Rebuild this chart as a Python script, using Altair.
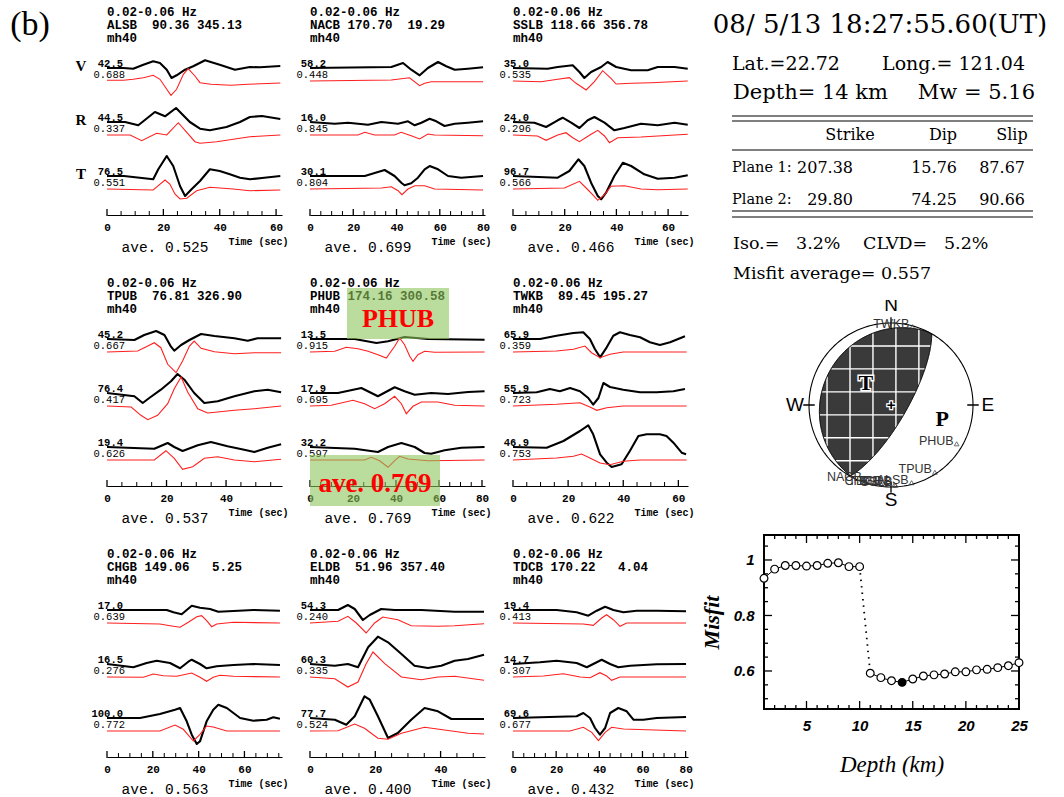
import math
import numpy as np
import pandas as pd
import altair as alt

# ======================= DATA =======================
STATIONS = ["ALSB", "NACB", "SSLB", "TPUB", "PHUB", "TWKB", "CHGB", "ELDB", "TDCB"]
DIST = [90.36, 170.70, 118.66, 76.81, 174.16, 89.45, 149.06, 51.96, 170.22]
AZIM = [345.13, 19.29, 356.78, 326.90, 300.58, 195.27, 5.25, 357.40, 4.04]
FILTER_BAND = "0.02-0.06 Hz"
MODEL = "mh40"
COMPS = ["V", "R", "T"]
AMP = [["42.5", "44.5", "76.5"], ["58.2", "16.0", "30.1"], ["35.0", "24.0", "96.7"],
       ["45.2", "76.4", "19.4"], ["13.5", "17.9", "32.2"], ["65.9", "55.9", "46.9"],
       ["17.0", "16.5", "100.0"], ["54.3", "60.3", "77.7"], ["19.4", "14.7", "69.6"]]
VR = [["0.688", "0.337", "0.551"], ["0.448", "0.845", "0.804"], ["0.535", "0.296", "0.566"],
      ["0.667", "0.417", "0.626"], ["0.915", "0.695", "0.597"], ["0.359", "0.723", "0.753"],
      ["0.639", "0.276", "0.772"], ["0.240", "0.335", "0.524"], ["0.413", "0.307", "0.677"]]
AVE = ["0.525", "0.699", "0.466", "0.537", "0.769", "0.622", "0.563", "0.400", "0.432"]
TMAX = [62.1, 80.9, 67.7, 58.8, 81.4, 63.5, 76.4, 53.6, 81.1]
TIME_LABELS = [[0, 20, 40, 60], [0, 20, 40, 60, 80], [0, 20, 40, 60], [0, 20, 40],
               [0, 20, 40, 60, 80], [0, 20, 40, 60], [0, 20, 40, 60], [0, 20, 40],
               [0, 20, 40, 60, 80]]
HIGHLIGHT = "PHUB"

# waveforms: (time s, deflection) ; OBS = black data, SYN = red synthetic
ALSB_V_OBS = [(0,0),(5.8,0),(9.3,-0.7),(12.9,3.3),(16.4,6.7),(18.8,5),(21.2,-1.7),(22.9,-10),(24.7,-7.3),(27.7,-1.7),(30.6,1.7),(34.8,7.7),(40,3.3),(45.4,-1.7),(50.7,1),(54.3,0.7),(61.5,2)]
ALSB_V_SYN = [(0,0.7),(5.8,0.7),(9.3,1.7),(12.9,3.3),(16.4,5.7),(18.8,1.7),(21.2,-8.3),(22.7,-14.3),(24.7,-8.3),(27.1,6.7),(28.8,12.3),(31.2,5),(33,-1.7),(36.9,-3.3),(44,-4.3),(50,-3.3),(61.5,-2)]
ALSB_R_OBS = [(0,0),(6.4,0),(11.1,-3.3),(17,10),(20.6,5.7),(24.5,14),(29.4,0),(33,-6.7),(36.5,-8.3),(42.4,-5),(47.2,0),(50.7,5),(55,6),(61.5,3)]
ALSB_R_SYN = [(0,0),(8.2,0),(12.3,-5.7),(17.6,1.7),(21.2,0),(25.3,12.3),(31.2,-6.7),(33,-8.3),(38.9,-6.7),(50.7,-1.7),(61.5,0)]
ALSB_T_OBS = [(0,0),(6,0),(16.4,-3.3),(18.2,6.7),(21.2,20),(23.5,10),(25.9,-10),(27.7,-20),(30,-13.3),(33,-5),(36.5,6.7),(40,5),(43.6,1.7),(47.2,-1.7),(50.7,-3.3),(55,-2),(61.5,0)]
ALSB_T_SYN = [(0,0),(16.4,-1),(18.2,3.3),(20.6,9),(22.3,5),(24.1,-5),(25.9,-10),(28.3,-9.3),(31.8,-1.7),(36.5,1.7),(44.8,0),(50.7,-1.7),(61.5,-1)]

NACB_V_OBS = [(0,0),(37.6,1),(43,5),(46.8,-1.7),(50.7,-7.3),(54.5,0),(59.2,6),(63,1.7),(66.9,-1.7),(73,-0.7),(80,0.7)]
NACB_V_SYN = [(0,0),(37.6,1),(46,3.3),(50.7,-4.7),(53,-2.3),(56.1,-0.7),(80,-0.7)]
NACB_R_OBS = [(0,0),(11.4,-1.7),(17.6,-0.7),(26.8,-2.7),(33,0),(40.7,-1.7),(45.3,0.7),(48.4,-3.3),(51.5,-0.7),(55.3,3.3),(58.4,0.7),(62.2,-4),(66.9,-1.7),(73,-0.7),(80,0.7)]
NACB_R_SYN = [(0,0),(22.2,0),(25.3,2.7),(29.9,0),(39.1,0),(42.1,2.7),(46.8,-0.7),(50.7,-4),(54.5,1),(57.6,0),(80,-0.7)]
NACB_T_OBS = [(0,0),(25.3,0),(34.5,6),(39.1,0),(42.2,-6.7),(43.7,-9.3),(46.8,-7.3),(49.9,-1.7),(53,6.7),(55.3,10),(59.2,6.7),(63.8,0),(69.9,-1.7),(80,0)]
NACB_T_SYN = [(0,0),(33,1),(37.6,2.3),(40.7,-1.7),(42.5,-5.7),(45.3,0),(48.4,3.3),(53,3.3),(57.6,0),(80,-1)]

SSLB_V_OBS = [(0,0),(13.4,-0.7),(17.3,1),(23.1,2.7),(25.7,-4),(27.6,-10),(30.2,-4),(34.1,1),(36.6,6),(39.9,1),(45.7,-2.3),(52.1,-2.3),(56,1),(62.5,1),(67.6,-0.7)]
SSLB_V_SYN = [(0,0),(10.8,-0.7),(17.3,1.7),(21.8,3.3),(24.4,-2.3),(28.3,-9),(31.5,-0.7),(34.7,10.3),(37.9,2.7),(39.9,-3),(45.7,-2.3),(53.4,-1.7),(67.6,0)]
SSLB_R_OBS = [(0,0),(8.3,-0.7),(12.8,-5),(17.3,1.7),(19.2,4.3),(22.5,-0.7),(25.7,-6),(28.9,1.7),(31.5,5),(35.4,-0.7),(39.2,-8.3),(43.1,-6),(49.5,-1.7),(56,-3.3),(62.5,-0.7),(67.6,-2.7)]
SSLB_R_SYN = [(0,0),(9.5,-1),(12.8,-5.3),(17.3,0),(20.5,2.3),(23.1,-2.7),(25.7,-6.7),(30.2,0.7),(32.8,4.7),(35.4,-1),(37.3,-7.7),(40.5,-2.7),(49.5,-2),(67.6,0.7)]
SSLB_T_OBS = [(0,0),(17.3,-1.7),(21.8,5),(25.3,16.7),(27.6,10),(30.2,-6.7),(32.8,-20),(34.1,-23.3),(36,-16.7),(39.2,0),(42.5,13.3),(45.7,10),(50.8,1.7),(56,-2.7),(62.5,-1.7),(67.6,0.7)]
SSLB_T_SYN = [(0,0),(19.9,1),(25.7,7.7),(28.3,1),(30.8,-5.7),(32.8,-11.3),(35.4,-5.7),(37.9,2.7),(43.1,3.3),(49.5,0),(56,-0.7),(67.6,0)]

TPUB_V_OBS = [(0,0),(9.2,-1),(12.5,4),(16.5,8),(19.3,4),(21.5,-7.7),(22.6,-11.7),(24.9,-6),(27.7,-1),(31.6,5),(36.1,3),(42.8,0.7),(47.3,-1.7),(50.6,0.7),(58.5,0.7)]
TPUB_V_SYN = [(0,0),(10.3,1),(13.7,6),(15.9,9.3),(18.1,4.3),(20.4,-12.3),(23.2,-20.7),(25.4,-9),(27.7,6),(29.3,11),(31.6,3.7),(36.1,0.3),(42.8,-1.7),(49.5,-0.7),(58.5,-0.7)]
TPUB_R_OBS = [(0,0),(9.2,-3.3),(12,-10),(14.2,-5),(18.1,3.3),(21.5,11.7),(23.7,19),(26,13.3),(29.3,0),(32.7,-10),(37.2,-8.3),(42.8,-3.3),(49.5,1.7),(54,3.3),(58.5,0.7)]
TPUB_R_SYN = [(0,0),(8.1,-1),(11.4,-9.3),(13.7,-13.7),(17,-9.3),(20.4,2.3),(22.6,17.3),(24.9,29),(27.1,14),(30.5,-2.7),(33.8,-7),(37.2,-6),(42.8,-4.3),(49.5,-2.7),(58.5,0)]
TPUB_T_OBS = [(0,0),(15.9,-1.7),(20.4,4),(22.6,0),(25.4,-4),(30.5,1.7),(34.9,5),(40.5,0.7),(46.1,-2.7),(49.5,-5),(54,-0.7),(58.5,2.7)]
TPUB_T_SYN = [(0,0),(15.9,0),(19.8,9.3),(22.6,1.7),(25.4,-9.3),(28.8,-6.7),(32.7,1.7),(37.2,3.3),(42.8,0),(49.5,-1.7),(58.5,0.7)]

PHUB_V_OBS = [(0,0),(20.8,0),(30.9,-4),(36.3,-2.3),(44,2),(54.9,0),(81.2,-0.7)]
PHUB_V_SYN = [(0,0),(11.5,0.7),(16.9,4.7),(22.3,3.3),(27,0.7),(31.6,-2.7),(35.5,-6),(39.4,5.7),(41.7,14),(44,7.3),(46.4,-4.3),(47.9,-9.3),(50.2,-2.7),(53.3,0.7),(58,-0.3),(81.2,0)]
PHUB_R_OBS = [(0,0),(13,0),(23.9,5),(31.6,-3.3),(39.4,5.7),(44,1.7),(48.7,-1.7),(56.4,0),(64.2,-1),(73.5,1),(81.2,1.7)]
PHUB_R_SYN = [(0,0),(9.9,0.7),(20,5.7),(25.4,2.3),(30.1,-2.7),(34.7,2.3),(39.4,9.7),(42.5,2.3),(44.8,-7.7),(47.9,-0.3),(51.8,4),(59.5,4),(67.3,0.7),(81.2,0)]
PHUB_T_OBS = [(0,0),(20.8,-1.7),(31.6,-5),(36.3,0),(42.5,4),(48.7,0),(53.3,-6),(56.4,-6.7),(62.6,-3.3),(70.4,-0.7),(81.2,0)]
PHUB_T_SYN = [(0,0),(25.4,0),(28.5,2.7),(32.4,-0.7),(36.3,-7.3),(39.4,-0.7),(41.7,3.7),(45.6,1),(54.9,-0.7),(81.2,0)]

TWKB_V_OBS = [(0,0),(9.8,0),(15.8,3.3),(21.9,6),(25.5,6.7),(27.9,0),(29.7,-10),(31.6,-18.3),(34,-8.3),(36.4,3.3),(38.8,6.7),(42.4,4),(46.1,1.7),(49.7,-3.3),(53.3,-6),(57,-3.3),(62.4,2.7)]
TWKB_V_SYN = [(0,0),(15.8,1),(21.9,2.7),(26.1,6),(28.5,-0.7),(31.6,-5.7),(35.2,-2.3),(40,0),(63,0)]
TWKB_R_OBS = [(0,0),(8.6,0.7),(13.4,4),(17,1.7),(20.7,5),(24.3,1.7),(27.3,-5),(29.1,-11.7),(31,-5),(32.8,10),(35.2,6),(40,3.3),(46.1,0.7),(52.1,0.7),(58.2,1.7),(62.4,4)]
TWKB_R_SYN = [(0,0),(15.8,1.7),(24.3,3.3),(27.9,-1),(30.4,-4.3),(34,-1.7),(40,0),(63,0)]
TWKB_T_OBS = [(0,0),(12.2,-0.7),(18.3,6),(24.3,16),(27.3,21.7),(29.1,12.7),(31.6,-7.3),(34,-15.7),(35.8,-20),(39.4,-17.3),(42.4,-4),(45.5,11),(48.5,12.7),(53.3,12.7),(55.7,11),(58.2,4.3),(61.2,-5.7),(62.8,-7.3)]
TWKB_T_SYN = [(0,0),(15.8,2),(21.9,3.7),(24.9,6),(27.9,2),(31.6,-3),(35.2,-4.7),(40,-1.3),(46.1,0),(63,0)]

CHGB_V_OBS = [(0,0),(26.1,0),(29,-2.3),(32.6,-4.3),(34.8,0),(37,4.3),(40.6,2.3),(45,1),(48.6,-1.7),(55.2,-1),(63.9,0),(75.5,-0.7)]
CHGB_V_SYN = [(0,0),(23.1,-1),(27.5,-2.7),(31.9,-4.3),(35.5,0.7),(39.2,6.3),(41.3,7.3),(43.5,2.3),(45.7,-3.7),(47.9,-1),(55.2,0.7),(75.5,0)]
CHGB_R_OBS = [(0,0),(11.5,-3.3),(17.3,1),(21.7,3.3),(27.5,1),(31.9,-4.3),(35.5,2.3),(37,4.3),(40.6,0),(43.5,-4.3),(47.9,-2.3),(55.2,-1),(63.9,0),(75.5,-1)]
CHGB_R_SYN = [(0,0),(15.9,-0.3),(20.2,3),(24.6,1.3),(30.4,0.7),(37,4),(40.6,-0.3),(43.5,-4.3),(46.4,-0.3),(49.3,1.7),(55.2,0.7),(75.5,0)]
CHGB_T_OBS = [(0,0),(14.4,0),(23.1,4),(29.7,8.3),(31.9,10),(34.8,-3.3),(37,-16.7),(39.2,-26),(40.6,-23.3),(43.5,-3.3),(46.4,8.3),(48.6,13.3),(52.3,10),(58.1,0),(63.9,-2.7),(69.7,-1.7),(72.6,0.7),(75.5,-0.7)]
CHGB_T_SYN = [(0,0),(23.1,0),(29.7,6),(33.3,1.7),(37.7,-10),(40.6,-3.3),(43.5,5),(46.4,4),(52.3,0),(75.5,0)]

ELDB_V_OBS = [(0,0),(8.6,0),(11.6,5),(13.7,1),(16.2,-10),(18.3,-5),(21.8,1),(25.9,0),(34.1,0),(44.3,-1.7),(53.3,-1.7)]
ELDB_V_SYN = [(0,0),(8.6,1.7),(11.6,6.7),(14.2,0),(17.2,-10),(19.8,0),(22.3,6),(26.9,3.3),(31,-2.7),(39.2,-3.3),(44.3,-2.7),(53.3,-0.7)]
ELDB_R_OBS = [(0,0),(7.6,-1.7),(11.6,0),(14.7,-3.3),(17.8,16.7),(20.8,27.3),(23.9,21.7),(28,10),(32,-1.7),(36.1,-4),(40.2,-1.7),(44.3,3.3),(48.4,5),(53.3,9.3)]
ELDB_R_SYN = [(0,0),(7.6,-1.7),(11.6,-10),(14.7,-5),(17.2,13.3),(19.3,25),(22.9,13.3),(28,0),(34.1,-2.7),(39.2,0),(44.3,0.7),(53.3,-3.3)]
ELDB_T_OBS = [(0,0),(7.6,-1.7),(11.1,-6.7),(13.7,1.7),(16.7,21.7),(18.3,18.3),(20.8,1.7),(23.9,-20),(26.9,-15),(31,-1.7),(35.1,10),(39.2,6.7),(43.3,-1),(53.3,-1)]
ELDB_T_SYN = [(0,0),(8.6,0.3),(13.7,7),(16.7,2.7),(20.8,-7.3),(23.9,-8.3),(28,-2.3),(35.1,3.7),(41.2,1),(48.4,-2.3),(53.3,-3)]

TDCB_V_OBS = [(0,0),(20.2,0),(29.5,-2.3),(34.9,-5.7),(38.8,-0.7),(42.7,3.3),(46.5,0),(51.2,-2.3),(57.3,-0.7),(66.6,-0.7),(80.2,-1.3)]
TDCB_V_SYN = [(0,0),(32.6,-1),(37.2,-2.3),(41.1,5),(43.4,8.3),(46.5,3.3),(49.6,-3.3),(52.7,0),(80.2,0)]
TDCB_R_OBS = [(0,0),(12.5,1.7),(20.2,3.3),(29.5,1),(34.2,-3.3),(38.8,1.7),(41.1,4.3),(45,0),(48.8,-3.3),(54.3,-1.7),(66.6,-0.3),(80.2,0)]
TDCB_R_SYN = [(0,0),(14.1,1),(23.3,3.3),(31.1,0),(35.7,-0.7),(40.3,4.3),(43.4,1),(45.7,-3.3),(49.6,0),(80.2,0)]
TDCB_T_OBS = [(0,0),(29.5,1.7),(32.6,5),(35.7,0),(38,-10),(40.3,-16.7),(42.7,-10),(45,5),(48.8,10),(52.7,6.7),(55.8,-1.7),(60.4,-1.7),(66.6,0),(80.2,1)]
TDCB_T_SYN = [(0,0),(26.4,0),(32.6,3.7),(36.5,-1.3),(39.6,-9.7),(42.7,-1.3),(45.7,3.7),(51.2,2),(80.2,0)]

WAVES = {
    "ALSB": {"V": (ALSB_V_OBS, ALSB_V_SYN), "R": (ALSB_R_OBS, ALSB_R_SYN), "T": (ALSB_T_OBS, ALSB_T_SYN)},
    "NACB": {"V": (NACB_V_OBS, NACB_V_SYN), "R": (NACB_R_OBS, NACB_R_SYN), "T": (NACB_T_OBS, NACB_T_SYN)},
    "SSLB": {"V": (SSLB_V_OBS, SSLB_V_SYN), "R": (SSLB_R_OBS, SSLB_R_SYN), "T": (SSLB_T_OBS, SSLB_T_SYN)},
    "TPUB": {"V": (TPUB_V_OBS, TPUB_V_SYN), "R": (TPUB_R_OBS, TPUB_R_SYN), "T": (TPUB_T_OBS, TPUB_T_SYN)},
    "PHUB": {"V": (PHUB_V_OBS, PHUB_V_SYN), "R": (PHUB_R_OBS, PHUB_R_SYN), "T": (PHUB_T_OBS, PHUB_T_SYN)},
    "TWKB": {"V": (TWKB_V_OBS, TWKB_V_SYN), "R": (TWKB_R_OBS, TWKB_R_SYN), "T": (TWKB_T_OBS, TWKB_T_SYN)},
    "CHGB": {"V": (CHGB_V_OBS, CHGB_V_SYN), "R": (CHGB_R_OBS, CHGB_R_SYN), "T": (CHGB_T_OBS, CHGB_T_SYN)},
    "ELDB": {"V": (ELDB_V_OBS, ELDB_V_SYN), "R": (ELDB_R_OBS, ELDB_R_SYN), "T": (ELDB_T_OBS, ELDB_T_SYN)},
    "TDCB": {"V": (TDCB_V_OBS, TDCB_V_SYN), "R": (TDCB_R_OBS, TDCB_R_SYN), "T": (TDCB_T_OBS, TDCB_T_SYN)},
}

# solution summary
EVENT_TIME = "08/ 5/13 18:27:55.60(UT)"
LAT, LON = 22.72, 121.04
DEPTH, MW = 14, 5.16
TABLE_COLS = ["Strike", "Dip", "Slip"]
PLANE_NAMES = ["Plane 1:", "Plane 2:"]
PLANES = [[207.38, 15.76, 87.67], [29.80, 74.25, 90.66]]
ISO, CLVD = 3.2, 5.2
MISFIT_AVG = 0.557

# beach-ball station plotting radius
STA_R = [0.98, 0.97, 0.98, 0.98, 0.93, 0.99, 0.97, 0.97, 0.97]

# misfit versus depth
DEPTHS = list(range(1, 26))
MISFIT = [0.934, 0.967, 0.980, 0.980, 0.978, 0.980, 0.988, 0.990, 0.976, 0.976,
          0.592, 0.576, 0.565, 0.559, 0.571, 0.582, 0.586, 0.589, 0.597, 0.597,
          0.604, 0.606, 0.612, 0.619, 0.630]

# ======================= STYLE / LAYOUT =======================
MONO = "Liberation Mono"
SERIF = "Liberation Serif"
SERIF2 = "DejaVu Serif"
SANS = "Liberation Sans"
RED = "#ff1f1f"
GREEN = "#8cc45a"
PANEL_W, PANEL_H = 175, 165
ROW_PITCH = 271          # vertical distance between the tops of panel rows
RIGHT_X = 657            # horizontal offset of the right column from the first panel
OBS_BASE = {"V": 147, "R": 93, "T": 39}
SYN_BASE = {"V": 134, "R": 80, "T": 26}
ANCHOR = pd.DataFrame({"k": [0]})
NB = "\u00a0"


def label(text, x, y, size, font=SERIF2, weight="normal", style="normal",
          align="left", color="black", baseline="middle"):
    return alt.Chart(ANCHOR).mark_text(
        text=text, font=font, fontSize=size, fontWeight=weight, fontStyle=style,
        align=align, baseline=baseline, color=color
    ).encode(x=alt.value(x), y=alt.value(y))


def hline(x1, x2, y, w=1.2):
    return alt.Chart(ANCHOR).mark_rule(color="black", strokeWidth=w).encode(
        x=alt.value(x1), x2=alt.value(x2), y=alt.value(y))


# ----------------------- waveform panels -----------------------
def panel(i):
    name = STATIONS[i]
    rows = []
    for comp in COMPS:
        obs, syn = WAVES[name][comp]
        for kind, pts, base in (("obs", obs, OBS_BASE[comp]), ("syn", syn, SYN_BASE[comp])):
            for k, (t, a) in enumerate(pts):
                rows.append(dict(t=t, y=base + a, trace=f"{comp}-{kind}", kind=kind, k=k))
    df = pd.DataFrame(rows)
    xs = alt.Scale(domain=[0, TMAX[i]], nice=False, zero=False)
    ys = alt.Scale(domain=[0, PANEL_H], nice=False, zero=False)

    axis = alt.Axis(values=TIME_LABELS[i], ticks=False, domain=True, domainColor="black",
                    domainWidth=1.2, grid=False, labelFont=MONO, labelFontWeight="bold",
                    labelFontSize=11, labelPadding=6, labelFlush=False, labelOverlap=False,
                    labelColor="black",
                    title="Time (sec)", titleFont=MONO, titleFontSize=10, titleFontWeight="bold",
                    titleAnchor="end", titleAlign="right", titleBaseline="middle",
                    titleX=PANEL_W + 6, titleY=26, titleColor="black")

    base = alt.Chart(df)
    obs_l = base.transform_filter("datum.kind == 'obs'").mark_line(
        color="black", strokeWidth=2.1, strokeJoin="round").encode(
        x=alt.X("t:Q", scale=xs, axis=axis),
        y=alt.Y("y:Q", scale=ys, axis=None),
        detail="trace:N", order="k:Q")
    syn_l = base.transform_filter("datum.kind == 'syn'").mark_line(
        color=RED, strokeWidth=1.1).encode(
        x=alt.X("t:Q", scale=xs), y=alt.Y("y:Q", scale=ys),
        detail="trace:N", order="k:Q")

    tick_t = np.arange(0, TMAX[i] + 1e-6, 5.0)
    tdf = pd.DataFrame({"t": tick_t, "major": (tick_t % 20 == 0)})
    minor = alt.Chart(tdf).transform_filter("!datum.major").mark_rule(
        color="black", strokeWidth=1).encode(
        x=alt.X("t:Q", scale=xs), y=alt.value(PANEL_H), y2=alt.value(PANEL_H - 4))
    major = alt.Chart(tdf).transform_filter("datum.major").mark_rule(
        color="black", strokeWidth=1.3).encode(
        x=alt.X("t:Q", scale=xs), y=alt.value(PANEL_H + 1), y2=alt.value(PANEL_H - 6))

    ldf = pd.DataFrame({"comp": COMPS, "amp": AMP[i], "vr": VR[i],
                        "yb": [OBS_BASE[c] for c in COMPS]})
    amp_t = alt.Chart(ldf).mark_text(align="right", baseline="bottom", font=MONO,
                                     fontWeight="bold", fontSize=10.5, dy=1).encode(
        x=alt.value(16), y=alt.Y("yb:Q", scale=ys), text="amp:N")
    vr_t = alt.Chart(ldf).mark_text(align="right", baseline="middle", font=MONO,
                                    fontSize=10.5, dy=7).encode(
        x=alt.value(18), y=alt.Y("yb:Q", scale=ys), text="vr:N")

    header = [FILTER_BAND.replace(" ", NB),
              f"{name} {DIST[i]:6.2f} {AZIM[i]:6.2f}".replace(" ", NB),
              MODEL]
    head_t = alt.Chart(ANCHOR).mark_text(
        text=header, align="left", baseline="top", font=MONO, fontWeight="bold",
        fontSize=12.5, lineHeight=13, color="black").encode(
        x=alt.value(0), y=alt.value(-44))
    ave_t = label(f"ave.{NB}{AVE[i]}", 58, PANEL_H + 33, 14.5, font=MONO, align="center")

    layers = [obs_l, syn_l, minor, major, amp_t, vr_t, head_t, ave_t]

    if i == 0:
        layers.append(label("(b)", -77, -25, 34, font=SERIF, align="center"))
        comp_t = alt.Chart(ldf).mark_text(align="center", baseline="middle", font=SERIF,
                                          fontWeight="bold", fontSize=15, dy=-2).encode(
            x=alt.value(-26), y=alt.Y("yb:Q", scale=ys), text="comp:N")
        layers.append(comp_t)

    if name == HIGHLIGHT:
        box1 = alt.Chart(ANCHOR).mark_rect(fill=GREEN, opacity=0.6).encode(
            x=alt.value(37), x2=alt.value(139), y=alt.value(-33), y2=alt.value(18))
        box2 = alt.Chart(ANCHOR).mark_rect(fill=GREEN, opacity=0.6).encode(
            x=alt.value(0), x2=alt.value(130), y=alt.value(134), y2=alt.value(185))
        layers += [box1, box2,
                   label(name, 88, -2, 26, font=SERIF, weight="bold", color="red", align="center"),
                   label(f"ave.{NB}{AVE[i]}", 65, 163, 27, font=SERIF, weight="bold",
                         color="red", align="center")]

    return alt.layer(*layers).properties(width=PANEL_W, height=PANEL_H)


rows = [alt.hconcat(*[panel(3 * r + c) for c in range(3)], spacing=28, bounds="flush")
        for r in range(3)]
left = alt.vconcat(*rows, spacing=ROW_PITCH, bounds="flush")

# ----------------------- solution text block -----------------------
TEXT_W, TEXT_H = 255, 240
TS = 16
tl = [
    label(EVENT_TIME, 116, -25, 26, align="center"),
    label(f"Lat.={LAT:.2f}", -32, 14, 19),
    label(f"Long.={NB}{LON:.2f}", 261, 14, 19, align="right"),
    label(f"Depth={NB}{DEPTH}{NB}km", -31, 43, 21),
    label(f"Mw{NB}={NB}{MW:.2f}", 271, 43, 21, align="right"),
    hline(-32, 269, 66), hline(-32, 269, 71),
    hline(-32, 269, 100),
    hline(-32, 269, 161), hline(-32, 269, 167),
]
for c, x in zip(TABLE_COLS, [86, 179, 248]):
    tl.append(label(c, x, 85, TS, align="center"))
for j, (pn, vals) in enumerate(zip(PLANE_NAMES, PLANES)):
    yy = 118 + 32 * j
    tl.append(label(pn.replace(" ", NB), -32, yy, 14.5))
    for v, x in zip(vals, [89, 193, 261]):
        tl.append(label(f"{v:.2f}", x, yy, TS, align="right"))
tl.append(label(f"Iso.={NB}{NB}{NB}{ISO:.1f}%", -31, 194, 17.5))
tl.append(label(f"CLVD={NB}{NB}{NB}{CLVD:.1f}%", 99, 194, 17.5))
tl.append(label(f"Misfit{NB}average={NB}{MISFIT_AVG:.3f}", -31, 224, 17.5))
text_chart = alt.layer(*tl).properties(width=TEXT_W, height=TEXT_H)


# ----------------------- beach ball -----------------------
def eq_area(plunge, az):
    r = math.sqrt(2) * math.sin((math.pi / 2 - plunge) / 2)
    return [r * math.sin(az), r * math.cos(az)]


def plane_curve(strike, dip, n=121):
    s, d = math.radians(strike), math.radians(dip)
    sv = np.array([math.sin(s), math.cos(s), 0.0])
    dd = s + math.pi / 2
    dv = np.array([math.cos(d) * math.sin(dd), math.cos(d) * math.cos(dd), math.sin(d)])
    pts = []
    for a in np.linspace(0, math.pi, n):
        v = math.cos(a) * sv + math.sin(a) * dv
        v = v / np.linalg.norm(v)
        pts.append(eq_area(math.asin(max(-1.0, min(1.0, v[2]))), math.atan2(v[0], v[1])))
    return pts


def axis_point(vec):
    n, e, dn = vec / np.linalg.norm(vec)
    if dn < 0:
        n, e, dn = -n, -e, -dn
    return eq_area(math.asin(dn), math.atan2(e, n))


def pt_axes(strike, dip, rake):
    f, d, l = map(math.radians, (strike, dip, rake))
    nrm = np.array([-math.sin(d) * math.sin(f), math.sin(d) * math.cos(f), -math.cos(d)])
    slip = np.array([math.cos(l) * math.cos(f) + math.cos(d) * math.sin(l) * math.sin(f),
                     math.cos(l) * math.sin(f) - math.cos(d) * math.sin(l) * math.cos(f),
                     -math.sin(l) * math.sin(d)])
    return axis_point(nrm + slip), axis_point(nrm - slip)


def inside(px, py, poly):
    p = np.asarray(poly)
    x, y = p[:, 0], p[:, 1]
    x2, y2 = np.roll(x, -1), np.roll(y, -1)
    res = np.zeros(len(px), bool)
    for xa, ya, xb, yb in zip(x, y, x2, y2):
        cond = (ya > py) != (yb > py)
        xint = (xb - xa) * (py - ya) / ((yb - ya) + 1e-12) + xa
        res ^= cond & (px < xint)
    return res


p1 = plane_curve(PLANES[0][0], PLANES[0][1])
p2 = plane_curve(PLANES[1][0], PLANES[1][1])
lens = p1 + p2 + [p1[0]]
s = np.linspace(-1, 1, 501)
grid_segs = []
for c in np.arange(-0.78, 1.0, 0.28):
    for vertical in (True, False):
        cc = c if vertical else c + 0.10
        if abs(cc) >= 1:
            continue
        px, py = (np.full_like(s, cc), s) if vertical else (s, np.full_like(s, cc))
        m = inside(px, py, lens)
        idx = np.where(m)[0]
        if len(idx) == 0:
            continue
        runs = np.split(idx, np.where(np.diff(idx) > 1)[0] + 1)
        for r in runs:
            if len(r) > 1:
                grid_segs.append([[float(px[r[0]]), float(py[r[0]])],
                                  [float(px[r[-1]]), float(py[r[-1]])]])

circle = [[math.sin(a), math.cos(a)] for a in np.linspace(0, 2 * math.pi, 241)]
ticks = [[[-1.07, 0], [-0.93, 0]], [[0.93, 0], [1.07, 0]],
         [[0, 0.93], [0, 1.07]], [[0, -0.93], [0, -1.07]]]


def feat(gtype, coords):
    return alt.Data(values=[{"type": "Feature", "properties": {},
                             "geometry": {"type": gtype, "coordinates": coords}}])


T_AX, P_AX = pt_axes(*PLANES[0])
lens_l = alt.Chart(feat("Polygon", [lens])).mark_geoshape(
    fill="#3a3a3a", stroke="#3a3a3a", strokeWidth=0.5)
grid_l = alt.Chart(feat("MultiLineString", grid_segs)).mark_geoshape(
    filled=False, stroke="white", strokeWidth=1.4)
nodal_l = alt.Chart(feat("MultiLineString", [p1, p2])).mark_geoshape(
    filled=False, stroke="black", strokeWidth=0.8)
circ_l = alt.Chart(feat("LineString", circle)).mark_geoshape(
    filled=False, stroke="black", strokeWidth=1.1)
tick_l = alt.Chart(feat("MultiLineString", ticks)).mark_geoshape(
    filled=False, stroke="black", strokeWidth=1.3)

sta_az = [math.radians((a + 180) % 360) for a in AZIM]
sdf = pd.DataFrame({"name": STATIONS,
                    "lon": [r * math.sin(a) for r, a in zip(STA_R, sta_az)],
                    "lat": [r * math.cos(a) for r, a in zip(STA_R, sta_az)]})
sta_pt = alt.Chart(sdf).mark_point(shape="triangle-up", filled=False, size=22,
                                   color="#333", strokeWidth=1).encode(
    longitude="lon:Q", latitude="lat:Q")
sta_tx = alt.Chart(sdf).mark_text(align="right", baseline="alphabetic", font=SANS,
                                  fontSize=12.5, color="#333", dx=-3, dy=1).encode(
    longitude="lon:Q", latitude="lat:Q", text="name:N")

cdf = pd.DataFrame({"lab": ["N", "S", "E", "W"], "lon": [0, 0, 1.18, -1.17],
                    "lat": [1.22, -1.16, 0, 0]})
comp_tx = alt.Chart(cdf).mark_text(font=SANS, fontSize=19, color="black",
                                   baseline="middle", align="center").encode(
    longitude="lon:Q", latitude="lat:Q", text="lab:N")

axdf = pd.DataFrame({"lab": ["T", "P"], "lon": [T_AX[0], P_AX[0]], "lat": [T_AX[1], P_AX[1]]})
t_halo = alt.Chart(axdf.iloc[[0]]).mark_text(font=SERIF, fontWeight="bold", fontSize=22,
                                             stroke="white", strokeWidth=3, color="white",
                                             baseline="alphabetic").encode(
    longitude="lon:Q", latitude="lat:Q", text="lab:N")
t_txt = alt.Chart(axdf.iloc[[0]]).mark_text(font=SERIF, fontWeight="bold", fontSize=22,
                                            color="black", baseline="alphabetic").encode(
    longitude="lon:Q", latitude="lat:Q", text="lab:N")
p_txt = alt.Chart(axdf.iloc[[1]]).mark_text(font=SERIF, fontWeight="bold", fontSize=22,
                                            color="black", baseline="alphabetic", dy=-8).encode(
    longitude="lon:Q", latitude="lat:Q", text="lab:N")
cdf0 = pd.DataFrame({"lon": [0.0], "lat": [0.0]})
plus_h = alt.Chart(cdf0).mark_text(text="+", font=SANS, fontWeight="bold", fontSize=15,
                                   stroke="white", strokeWidth=2.5, color="white").encode(
    longitude="lon:Q", latitude="lat:Q")
plus_t = alt.Chart(cdf0).mark_text(text="+", font=SANS, fontWeight="bold", fontSize=15,
                                   color="black").encode(longitude="lon:Q", latitude="lat:Q")

BB_W, BB_H = 255, 225
beach = alt.layer(lens_l, grid_l, nodal_l, circ_l, tick_l, sta_pt, sta_tx, comp_tx,
                  t_halo, t_txt, p_txt, plus_h, plus_t).project(
    type="identity", reflectY=True, scale=82, translate=[127, 105]
).properties(width=BB_W, height=BB_H)

# ----------------------- misfit vs depth -----------------------
MF_W, MF_H = 255, 174
jump = int(np.argmax(np.abs(np.diff(MISFIT))))
best = int(np.argmin(MISFIT))
mdf = pd.DataFrame({"depth": DEPTHS, "misfit": MISFIT,
                    "seg": ["a" if k <= jump else "b" for k in range(len(DEPTHS))],
                    "jump": [k in (jump, jump + 1) for k in range(len(DEPTHS))],
                    "best": [k == best for k in range(len(DEPTHS))]})
mx = alt.Scale(domain=[1, 25], nice=False, zero=False)
my = alt.Scale(domain=[0.463, 1.09], nice=False, zero=False)
xax = alt.Axis(values=[5, 10, 15, 20, 25], ticks=False, domain=False, grid=False,
               labelFont=SANS, labelFontStyle="italic", labelFontWeight="bold",
               labelFontSize=15, labelPadding=9, labelFlush=False, labelColor="black",
               title="Depth (km)", titleFont=SERIF, titleFontStyle="italic",
               titleFontWeight="normal", titleFontSize=23, titlePadding=20, titleColor="black")
yax = alt.Axis(values=[0.6, 0.8, 1.0], ticks=False, domain=False, grid=False,
               labelExpr="datum.value == 1 ? '1' : format(datum.value, '.1f')",
               labelFont=SANS, labelFontStyle="italic", labelFontWeight="bold",
               labelFontSize=15, labelPadding=10, labelColor="black",
               title="Misfit", titleFont=SERIF, titleFontStyle="italic",
               titleFontWeight="bold", titleFontSize=22, titlePadding=10, titleColor="black")
mb = alt.Chart(mdf)
solid = mb.mark_line(color="black", strokeWidth=1).encode(
    x=alt.X("depth:Q", scale=mx, axis=xax), y=alt.Y("misfit:Q", scale=my, axis=yax),
    detail="seg:N")
dotted = mb.transform_filter("datum.jump").mark_line(
    color="black", strokeWidth=1.8, strokeDash=[1.5, 5]).encode(
    x=alt.X("depth:Q", scale=mx), y=alt.Y("misfit:Q", scale=my))
pts = mb.mark_point(shape="circle", filled=True, fill="white", stroke="black",
                    strokeWidth=1.2, size=60, opacity=1).encode(
    x=alt.X("depth:Q", scale=mx), y=alt.Y("misfit:Q", scale=my))
bestp = mb.transform_filter("datum.best").mark_point(
    shape="circle", filled=True, color="black", size=60, opacity=1).encode(
    x=alt.X("depth:Q", scale=mx), y=alt.Y("misfit:Q", scale=my))

yt = np.round(np.arange(0.5, 1.051, 0.05), 2)
ytdf = pd.DataFrame({"v": yt, "major": [abs(v * 5 - round(v * 5)) < 1e-6 for v in yt]})
xtdf = pd.DataFrame({"v": DEPTHS, "major": [d % 5 == 0 for d in DEPTHS]})


def yticks(x0, sign):
    out = []
    for maj, ln in ((False, 4), (True, 8)):
        out.append(alt.Chart(ytdf).transform_filter(
            "datum.major" if maj else "!datum.major").mark_rule(
            color="black", strokeWidth=1.3).encode(
            y=alt.Y("v:Q", scale=my), x=alt.value(x0), x2=alt.value(x0 + sign * ln)))
    return out


def xticks(y0, sign):
    out = []
    for maj, ln in ((False, 4), (True, 8)):
        out.append(alt.Chart(xtdf).transform_filter(
            "datum.major" if maj else "!datum.major").mark_rule(
            color="black", strokeWidth=1.3).encode(
            x=alt.X("v:Q", scale=mx), y=alt.value(y0), y2=alt.value(y0 + sign * ln)))
    return out


misfit_chart = alt.layer(
    solid, dotted, pts, bestp,
    *yticks(0, 1), *yticks(MF_W, -1), *xticks(MF_H, -1), *xticks(0, 1)
).properties(width=MF_W, height=MF_H,
             view=alt.ViewBackground(stroke="black", strokeWidth=2))

right = alt.vconcat(text_chart, beach, misfit_chart, spacing=10, bounds="flush")

chart = alt.hconcat(left, right, spacing=RIGHT_X, bounds="flush").properties(
    padding={"left": 10, "top": 6, "right": 4, "bottom": 4}
).configure(background="white").configure_view(strokeWidth=0)

chart.save("out.html", embed_options={"renderer": "svg", "actions": False})
